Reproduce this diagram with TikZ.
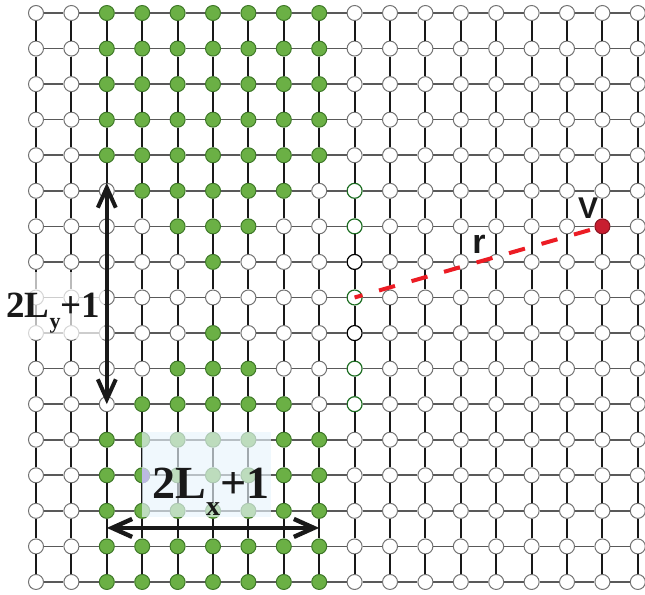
\documentclass[tikz,border=0pt]{standalone}
\usepackage{fontspec}
\setmainfont{Liberation Serif}
\newfontfamily\labelsans{Liberation Sans}
\usetikzlibrary{arrows.meta,positioning}
\definecolor{sitegreen}{RGB}{107,176,69}
\definecolor{sitegreenedge}{RGB}{62,120,40}
\definecolor{ringgreen}{RGB}{30,110,35}
\definecolor{vred}{RGB}{200,30,48}
\definecolor{dashred}{RGB}{236,28,36}
\definecolor{veil}{RGB}{232,244,252}
\definecolor{lavhalf}{RGB}{188,186,226}

\begin{document}
\begin{tikzpicture}[x=17.7pt,y=-17.78pt,
  site/.style={circle,draw=black!55,fill=white,line width=0.5pt,inner sep=0pt,minimum size=7.5pt},
  occ/.style={site,draw=sitegreenedge,fill=sitegreen},
  ring/.style={site,draw=ringgreen,line width=0.6pt},
  darkring/.style={site,draw=black,line width=0.6pt},
  vsite/.style={site,draw=vred!70!black,fill=vred},
  vbond/.style={black!90,line width=1pt},
  hbond/.style={black!65,line width=0.8pt},
  dim/.style={{Straight Barb[length=10pt,width=9pt]}-{Straight Barb[length=10pt,width=9pt]},black!90,line width=2pt},
  rline/.style={dashred,line width=2pt,dash pattern=on 8.3pt off 8.6pt,dash phase=4.2pt},
  big/.style={inner sep=0pt,anchor=base west,text=black!90},
  tag/.style={inner sep=0pt,anchor=base,text=black!90}]
\useasboundingbox (-1.017,-0.3656) rectangle (17.203,16.339);

\foreach \i in {0,...,17}
  \foreach \j in {0,...,16}{
    \pgfmathtruncatemacro\dx{abs(\i-5)}
    \pgfmathtruncatemacro\dy{abs(\j-8)}
    \def\kind{site}
    \ifnum\dx<4 \ifnum\dx<\dy \def\kind{occ}\fi\fi
    \ifnum\i=9 \ifnum\dy<4 \def\kind{ring}\ifnum\dy=1 \def\kind{darkring}\fi\fi\fi
    \ifnum\i=16 \ifnum\j=6 \def\kind{vsite}\fi\fi
    \node[\kind] (n-\i-\j) at (\i,\j) {};
  }
\foreach \i in {0,...,17}
  \foreach \j [count=\k] in {0,...,15}
    \draw[vbond] (n-\i-\j) -- (n-\i-\k);
\foreach \j in {0,...,16}
  \foreach \i [count=\k] in {0,...,16}
    \draw[hbond] (n-\i-\j) -- (n-\k-\j);

\fill[veil,fill opacity=0.66] (3,11.78) rectangle (6.64,14.17);
\fill[white,fill opacity=0.7] (-1.1,7.28) rectangle (1.92,9.17);
\fill[lavhalf] (n-3-13.south) arc[start angle=-90,end angle=90,radius=3.75pt] -- cycle;

\draw[dim] (n-2-5.north) -- (n-2-11.center);
\coordinate (hl) at (2,14.48);
\coordinate (hr) at (8,14.48);
\draw[dim,line width=2.2pt] (hl) -- (hr);

\draw[rline] (n-9-8.center) -- (n-16-6);

\node[big,font=\bfseries\fontsize{18.5}{20}\selectfont] (ly) at (-0.847,8.549)
  {2L\raisebox{-.3em}{\fontsize{11}{11}\selectfont y}+1};
\node[big,font=\bfseries\fontsize{23}{25}\selectfont] (lx) at (3.277,13.639)
  {2L\raisebox{-.37em}{\fontsize{14}{14}\selectfont x}+1};
\node[tag,font=\labelsans\bfseries\fontsize{15}{15}\selectfont] (vtag) at (15.593,5.765) {V};
\node[tag,font=\labelsans\bfseries\fontsize{17}{17}\selectfont] (rtag) at (12.514,6.749) {r};
\end{tikzpicture}
\end{document}
